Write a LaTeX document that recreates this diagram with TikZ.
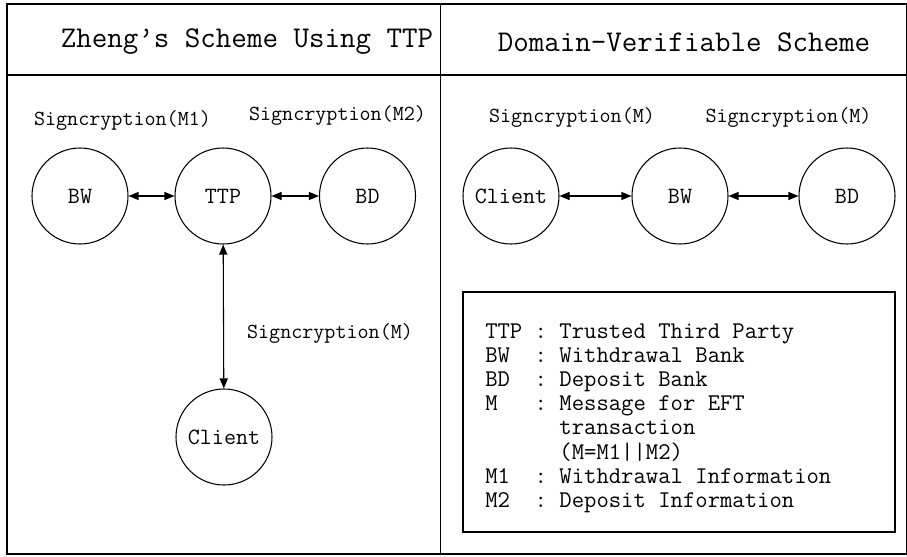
\documentclass[tikz,border=0pt]{standalone}
\usepackage{fontspec}
\usepackage{tikz}
\usetikzlibrary{arrows.meta}

\tikzset{
  party/.style={draw, circle, line width=0.8, minimum size=72pt, inner sep=0pt, font=\ttfamily\fontsize{17.5}{20}\selectfont},
  msglabel/.style={font=\ttfamily\fontsize{16.1}{19}\selectfont, inner sep=0pt},
  title/.style={font=\ttfamily\fontsize{22.6}{26}\selectfont, inner sep=0pt},
  link/.style={{Triangle[length=7.5pt,width=6pt]}-{Triangle[length=7.5pt,width=6pt]}, line width=0.8}
}

\begin{document}
\begin{tikzpicture}[x=0.75pt,y=0.75pt,yscale=-1,xscale=1]
\useasboundingbox (0,0) rectangle (907,557); %set diagram to 907 x 557

% Frame
\draw  [line width=1.2]  (7,4) rectangle (907,554) ;
\draw  [line width=1.2]  (7,75) -- (907,75) ;
\draw  [line width=1.2]  (440.5,4) -- (440.5,554) ;

% Text Node
\node [title] (titleL) at (247,42) {Zheng’s Scheme Using TTP};
% Text Node
\node [title] (titleR) at (684,42) {Domain-Verifiable Scheme};

% Text Node
\node [party] (bwL) at (80,196) {BW};
% Text Node
\node [party] (ttp) at (223,196) {TTP};
% Text Node
\node [party] (bdL) at (367.5,196) {BD};
% Text Node
\node [party] (clientL) at (224,437) {Client};

% Text Node
\node [party] (clientR) at (511,196) {Client};
% Text Node
\node [party] (bwR) at (680,196) {BW};
% Text Node
\node [party] (bdR) at (847,196) {BD};

% Text Node
\node [msglabel] (sigM1) at (122.5,121) {Signcryption(M1)};
% Text Node
\node [msglabel] (sigM2) at (337.5,116) {Signcryption(M2)};
% Text Node
\node [msglabel] (sigM) at (330,334) {Signcryption(M)};
% Text Node
\node [msglabel] (sigR1) at (572,118) {Signcryption(M)};
% Text Node
\node [msglabel] (sigR2) at (788.5,118) {Signcryption(M)};

% Connection
\draw [link]  (bwL) -- (ttp) ;
% Connection
\draw [link]  (ttp) -- (bdL) ;
% Connection
\draw [link]  (ttp) -- (clientL) ;
% Connection
\draw [link]  (clientR) -- (bwR) ;
% Connection
\draw [link]  (bwR) -- (bdR) ;

% Legend
\draw  [line width=1]  (463,292) rectangle (895,532) ;
\node [anchor=west, inner sep=0pt, font=\ttfamily\fontsize{18}{18.15pt}\selectfont] (legend) at (485,418) {%
  \begin{tabular}{@{}l@{\ :\ }l@{}}
  TTP & Trusted Third Party\\
  BW  & Withdrawal Bank\\
  BD  & Deposit Bank\\
  M   & Message for EFT\\
  \multicolumn{1}{@{}l@{\hphantom{\ :\ }}}{} & transaction\\
  \multicolumn{1}{@{}l@{\hphantom{\ :\ }}}{} & (M=M1||M2)\\
  M1  & Withdrawal Information\\
  M2  & Deposit Information
  \end{tabular}};

\end{tikzpicture}
\end{document}
